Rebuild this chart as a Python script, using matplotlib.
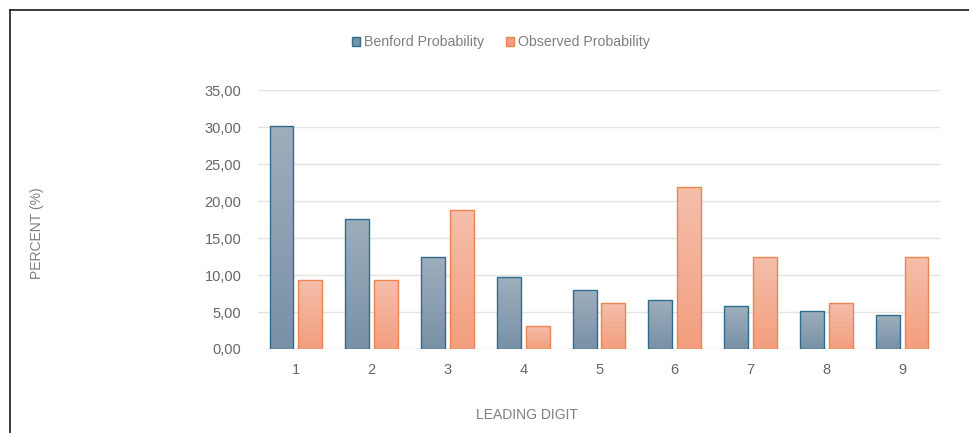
import numpy as np
import matplotlib.pyplot as plt
from matplotlib.colors import LinearSegmentedColormap
from matplotlib.lines import Line2D
from matplotlib.patches import Patch

digits = ["1", "2", "3", "4", "5", "6", "7", "8", "9"]
benford = [30.10, 17.61, 12.49, 9.69, 7.92, 6.69, 5.80, 5.12, 4.58]
observed = [9.375, 9.375, 18.75, 3.125, 6.25, 21.875, 12.5, 6.25, 12.5]
y_ticks = [0, 5, 10, 15, 20, 25, 30, 35]

BLUE_TOP, BLUE_BOT, BLUE_EDGE = "#9eaebc", "#7891a6", "#2f6d8e"
ORANGE_TOP, ORANGE_BOT, ORANGE_EDGE = "#f5bfac", "#f39e7e", "#ec8350"
GREY = "#7f7f7f"

plt.rcParams["font.family"] = ["Liberation Sans", "DejaVu Sans"]

fig = plt.figure(figsize=(9.69, 4.33), dpi=100)
ax = fig.add_axes([0.2663, 0.194, 0.9701 - 0.2663, 0.792 - 0.194])

x = np.arange(1, len(digits) + 1)
width = 0.315
offset = 0.19


def gradient_bars(xs, vals, top, bot, edge):
    cmap = LinearSegmentedColormap.from_list("g", [bot, top])
    grad = np.linspace(0, 1, 256).reshape(-1, 1)
    bars = ax.bar(xs, vals, width=width, facecolor="none", edgecolor=edge,
                  linewidth=1.0, zorder=4)
    for b in bars:
        x0, y0 = b.get_x(), b.get_y()
        w, h = b.get_width(), b.get_height()
        im = ax.imshow(grad, cmap=cmap, origin="lower", aspect="auto",
                       extent=[x0, x0 + w, y0, y0 + h], zorder=3)
        im.set_clip_path(b)
    return bars


gradient_bars(x - offset, benford, BLUE_TOP, BLUE_BOT, BLUE_EDGE)
gradient_bars(x + offset, observed, ORANGE_TOP, ORANGE_BOT, ORANGE_EDGE)

ax.set_xlim(0.5, 9.5)
ax.set_ylim(0, 35)
ax.set_xticks(x)
ax.set_xticklabels(digits)
ax.set_yticks(y_ticks)
ax.set_yticklabels([f"{v:.2f}".replace(".", ",") for v in y_ticks])
ax.tick_params(length=0, colors="#666666", labelsize=10.5, pad=12)
ax.tick_params(axis="x", pad=10)
for s in ax.spines.values():
    s.set_visible(False)
ax.yaxis.grid(True, color="#e3e3e3", linewidth=1)
ax.set_axisbelow(True)

fig.text(0.038, 0.462, "PERCENT (%)", rotation=90, ha="center", va="center",
         fontsize=10, color=GREY)
fig.text(0.544, 0.041, "LEADING DIGIT", ha="center", va="center",
         fontsize=10, color=GREY)

handles = [Patch(facecolor=BLUE_BOT, edgecolor=BLUE_EDGE, label="Benford Probability"),
           Patch(facecolor=ORANGE_BOT, edgecolor=ORANGE_EDGE, label="Observed Probability")]
leg = fig.legend(handles=handles, loc="center", bbox_to_anchor=(0.517, 0.903),
                 ncol=2, frameon=False, fontsize=10.2, handlelength=0.6,
                 handleheight=0.6, handletextpad=0.3, columnspacing=1.5)
for t in leg.get_texts():
    t.set_color(GREY)

# frame edges at top and left
fig.add_artist(Line2D([10 / 969, 1], [1 - 10 / 433, 1 - 10 / 433],
                      transform=fig.transFigure, color="#1a1a1a", linewidth=1.2))
fig.add_artist(Line2D([10 / 969, 10 / 969], [0, 1 - 10 / 433],
                      transform=fig.transFigure, color="#1a1a1a", linewidth=1.2))

fig.savefig("out.png", dpi=100)
